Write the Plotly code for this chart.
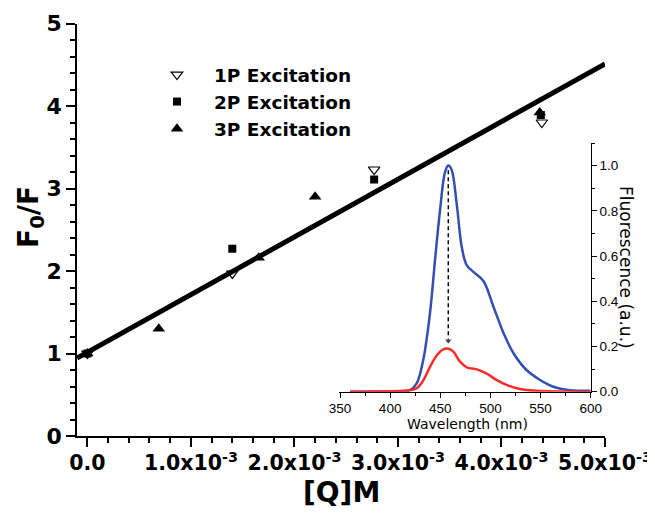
import plotly.graph_objects as go

# ---- main Stern-Volmer data ----
x_1p = [0.0, 1.40e-3, 2.77e-3, 4.39e-3]
y_1p = [1.0, 1.97, 3.23, 3.80]
x_2p = [0.0, 1.40e-3, 2.77e-3, 4.38e-3]
y_2p = [1.0, 2.27, 3.11, 3.89]
x_3p = [0.0, 0.69e-3, 1.655e-3, 2.20e-3, 4.37e-3]
y_3p = [1.0, 1.30, 2.16, 2.90, 3.92]
fit_x = [-0.1e-3, 5.0e-3]
fit_y = [0.945, 4.51]

x_tickvals = [0.0, 1e-3, 2e-3, 3e-3, 4e-3, 5e-3]
x_ticktext = ["0.0", "1.0x10<sup>-3</sup>", "2.0x10<sup>-3</sup>", "3.0x10<sup>-3</sup>",
              "4.0x10<sup>-3</sup>", "5.0x10<sup>-3</sup>"]

# ---- inset spectra ----
wl_blue = [360, 400, 413, 419.8, 426.5, 433, 439.8, 444.7, 449.7, 454.7, 458, 461.4, 466.4,
           471.4, 476.3, 483, 493, 503, 513, 523, 536, 549.5, 562.8, 579, 600]
fl_blue = [0.0, 0.0, 0.002, 0.007, 0.037, 0.14, 0.35, 0.58, 0.80, 0.97, 1.0, 0.98, 0.83,
           0.64, 0.56, 0.53, 0.49, 0.376, 0.26, 0.17, 0.096, 0.052, 0.022, 0.007, 0.004]
wl_red = [360, 413, 420, 426.5, 433, 439.8, 446.4, 453, 458, 463, 469.7, 476.3, 486.3, 496,
          506, 516, 529.5, 546, 570, 600]
fl_red = [0.0, 0.004, 0.007, 0.015, 0.05, 0.11, 0.16, 0.187, 0.19, 0.177, 0.133, 0.108, 0.099,
          0.081, 0.052, 0.03, 0.012, 0.004, 0.001, 0.0]
arrow_x = [458, 458]
arrow_y = [0.98, 0.225]

BOLD = "DejaVu Sans"

# page has an 8px body margin: figure is placed at (8,8)
OFF = 8
W, H = 655 - OFF, 514 - OFF


def fx(px):
    return (px - OFF) / W


def fy(py):
    return 1 - (py - OFF) / H


fig = go.Figure()

fig.add_trace(go.Scatter(x=fit_x, y=fit_y, mode="lines", line=dict(color="black", width=5),
                         showlegend=False, xaxis="x", yaxis="y"))
fig.add_trace(go.Scatter(x=x_1p, y=y_1p, mode="markers", name="1P Excitation",
                         marker=dict(symbol="triangle-down-open", size=10, color="black",
                                     line=dict(width=1.2, color="black")),
                         xaxis="x", yaxis="y"))
fig.add_trace(go.Scatter(x=x_2p, y=y_2p, mode="markers", name="2P Excitation",
                         marker=dict(symbol="square", size=8, color="black"),
                         xaxis="x", yaxis="y"))
fig.add_trace(go.Scatter(x=x_3p, y=y_3p, mode="markers", name="3P Excitation",
                         marker=dict(symbol="triangle-up", size=11, color="black"),
                         xaxis="x", yaxis="y"))

fig.add_trace(go.Scatter(x=wl_blue, y=fl_blue, mode="lines", line=dict(color="#3350b0", width=2.5),
                         line_shape="spline", showlegend=False, xaxis="x2", yaxis="y2"))
fig.add_trace(go.Scatter(x=wl_red, y=fl_red, mode="lines", line=dict(color="#ff2a2a", width=2.5),
                         line_shape="spline", showlegend=False, xaxis="x2", yaxis="y2"))
fig.add_trace(go.Scatter(x=arrow_x, y=arrow_y, mode="lines+markers",
                         line=dict(color="black", width=1.5, dash="4px,3px"),
                         marker=dict(symbol="triangle-down", size=[0, 7], color="black"),
                         showlegend=False, xaxis="x2", yaxis="y2"))

axis_common = dict(showgrid=False, zeroline=False, showline=True, linecolor="black",
                   ticks="outside", tickcolor="black", automargin=False)

fig.update_layout(
    width=W, height=H,
    margin=dict(l=0, r=0, t=0, b=0, autoexpand=False),
    paper_bgcolor="white", plot_bgcolor="rgba(0,0,0,0)",
    xaxis=dict(**axis_common, domain=[fx(77), fx(605)], range=[-0.1e-3, 5.0e-3],
               linewidth=1.5, tickwidth=1.5, ticklen=9, ticklabelstandoff=-1,
               tickmode="array", tickvals=x_tickvals, ticktext=x_ticktext,
               tickfont=dict(family=BOLD, size=20.5, color="black", weight="bold"),
               minor=dict(tickmode="linear", tick0=0, dtick=0.2e-3, ticklen=5, tickwidth=1.5,
                          ticks="outside", tickcolor="black"),
               anchor="y"),
    yaxis=dict(**axis_common, domain=[fy(436), fy(23.5)], range=[0, 5],
               linewidth=1.5, tickwidth=1.5, ticklen=9, dtick=1, tick0=0,
               tickfont=dict(family=BOLD, size=22, color="black", weight="bold"),
               minor=dict(dtick=0.2, ticklen=5, tickwidth=1.5, ticks="outside", tickcolor="black"),
               anchor="x"),
    xaxis2=dict(**axis_common, domain=[fx(339), fx(590.7)], range=[349, 600],
                linewidth=1, tickwidth=1, ticklen=5, dtick=50, tick0=350, ticklabelstandoff=-1,
                tickfont=dict(family="Liberation Sans", size=13.5, color="black"),
                minor=dict(dtick=25, ticklen=3, tickwidth=1, ticks="outside", tickcolor="black"),
                anchor="y2"),
    yaxis2=dict(**axis_common, domain=[fy(391.7), fy(143)], range=[0, 1.1],
                linewidth=1, tickwidth=1, ticklen=5, dtick=0.2, tick0=0, tickformat=".1f",
                side="right",
                tickfont=dict(family="Liberation Sans", size=13.5, color="black"),
                minor=dict(dtick=0.1, ticklen=3, tickwidth=1, ticks="outside", tickcolor="black"),
                anchor="x2"),
    legend=dict(x=fx(140), y=fy(56), xanchor="left", yanchor="top",
                bgcolor="rgba(0,0,0,0)", itemwidth=64,
                font=dict(family=BOLD, size=18.5, color="black", weight="bold")),
    annotations=[
        dict(text="<b>F<sub>0</sub>/F</b>", x=fx(30), y=fy(217), xref="paper", yref="paper",
             xanchor="center", yanchor="middle",
             showarrow=False, textangle=-90, font=dict(family=BOLD, size=28, color="black")),
        dict(text="<b>[Q]M</b>", x=fx(341), y=fy(492), xref="paper", yref="paper",
             xanchor="center", yanchor="middle",
             showarrow=False, font=dict(family=BOLD, size=28, color="black")),
        dict(text="Fluorescence (a.u.)", x=fx(626), y=fy(267), xref="paper", yref="paper",
             xanchor="center", yanchor="middle",
             showarrow=False, textangle=90, font=dict(family="DejaVu Sans", size=17, color="black")),
        dict(text="Wavelength (nm)", x=fx(467), y=fy(424), xref="paper", yref="paper",
             xanchor="center", yanchor="middle",
             showarrow=False, font=dict(family="DejaVu Sans", size=14, color="black")),
    ],
)

fig.write_html("out.html")
